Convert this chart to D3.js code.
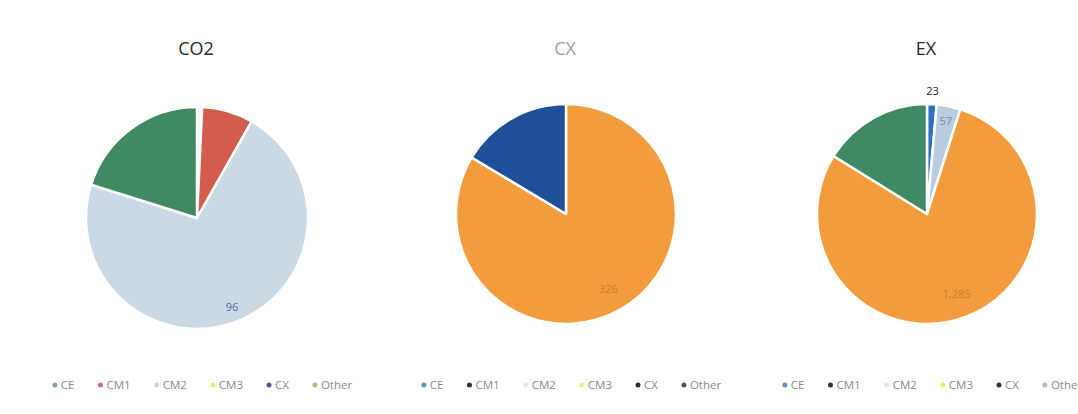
<!DOCTYPE html>
<html>
<head>
<meta charset="utf-8">
<script src="https://cdn.jsdelivr.net/npm/d3@7"></script>
<style>
  body { margin: 0; background: #fff; }
  text { font-family: "Open Sans", "Liberation Sans", sans-serif; }
</style>
</head>
<body>
<div id="chart"></div>
<script>
// categorías comunes a las tres tartas
var categories = ["CE", "CM1", "CM2", "CM3", "CX", "Other"];
var titles = ["CO2", "CX", "EX"];

// valores de cada tarta (mismo orden que categories)
var co2Values = [1, 10, 96, 0, 0, 27];
var cxValues = [0, 0, 0, 326, 64, 0];
var exValues = [23, 0, 57, 1285, 0, 263];

// etiquetas visibles en cada tarta
var co2Labels = ["", "", "96", "", "", ""];
var cxLabels = ["", "", "", "326", "", ""];
var exLabels = ["23", "", "57", "1,285", "", ""];

// colores de las porciones
var co2Colors = ["#f2f4f6", "#d35c4c", "#cbd9e4", "#e9ef7a", "#4c5c8c", "#3f8a62"];
var cxColors = ["#5b8fd6", "#333333", "#d9dde2", "#f39c3d", "#1f4f98", "#3f8a62"];
var exColors = ["#2f70c0", "#333333", "#b9cde0", "#f39c3d", "#2b3a5c", "#3f8a64"];

// colores de los puntos de leyenda
var co2Legend = ["#7fa88c", "#e0637a", "#cfd5de", "#e6f06a", "#4c5c8c", "#a6c47a"];
var cxLegend = ["#5b8fd6", "#333333", "#e4e6ea", "#eef07e", "#2a2a2a", "#555555"];
var exLegend = ["#5b8fd6", "#333333", "#e2e4e8", "#e6ef74", "#333333", "#a9c9a2"];

var charts = [
  {title: titles[0], values: co2Values, labels: co2Labels, colors: co2Colors, legend: co2Legend,
   cx: 197, cy: 218, r: 111, titleColor: "#2a2a2a", labelColor: ["", "", "#55659a", "", "", ""]},
  {title: titles[1], values: cxValues, labels: cxLabels, colors: cxColors, legend: cxLegend,
   cx: 566, cy: 214, r: 110, titleColor: "#a0a0a0", labelColor: ["", "", "", "#c98034", "", ""]},
  {title: titles[2], values: exValues, labels: exLabels, colors: exColors, legend: exLegend,
   cx: 927, cy: 214, r: 110, titleColor: "#2a2a2a", labelColor: ["#222", "", "#7d8ba2", "#c98034", "", ""]}
];

var width = 1078, height = 414;

var svg = d3.select("#chart")
  .append("svg")
    .attr("width", width)
    .attr("height", height);

var pie = d3.pie()
  .sort(null)
  .value(function(d) { return d.value; });

charts.forEach(function(c) {
  var g = svg.append("g")
    .attr("transform", "translate(" + c.cx + "," + c.cy + ")");

  var data = categories.map(function(k, i) {
    return {key: k, value: c.values[i], color: c.colors[i], label: c.labels[i], lc: c.labelColor[i]};
  });
  var arcs = pie(data);
  var arc = d3.arc().innerRadius(0).outerRadius(c.r);

  g.selectAll("path")
    .data(arcs.filter(function(d) { return d.data.value > 0; }))
    .enter()
    .append("path")
      .attr("d", arc)
      .attr("fill", function(d) { return d.data.color; })
      .attr("stroke", "#fff")
      .attr("stroke-width", 2.5)
      .attr("stroke-linejoin", "round");

  // etiquetas: dentro de la porción, o fuera si es muy pequeña
  g.selectAll("text.val")
    .data(arcs.filter(function(d) { return d.data.label !== ""; }))
    .enter()
    .append("text")
      .attr("class", "val")
      .attr("text-anchor", "middle")
      .attr("dy", "0.35em")
      .attr("transform", function(d) {
        var a = (d.startAngle + d.endAngle) / 2;
        var span = d.endAngle - d.startAngle;
        var k = span < 0.1 ? 1.12 : (span > 4.6 ? 0.78 : 0.86);
        return "translate(" + (Math.sin(a) * c.r * k) + "," + (-Math.cos(a) * c.r * k) + ")";
      })
      .style("font-size", "11px")
      .style("fill", function(d) { return d.data.lc; })
      .text(function(d) { return d.data.label; });

  // título
  svg.append("text")
    .attr("x", c.cx - 1)
    .attr("y", 55)
    .attr("text-anchor", "middle")
    .style("font-size", "18px")
    .style("fill", c.titleColor)
    .text(c.title);

  // leyenda
  var lg = svg.append("g");
  var x = 0;
  categories.forEach(function(k, i) {
    var item = lg.append("g").attr("transform", "translate(" + x + ",0)");
    item.append("circle")
      .attr("cx", 3).attr("cy", 0).attr("r", 2.5)
      .attr("fill", c.legend[i]);
    var t = item.append("text")
      .attr("x", 9).attr("y", 0).attr("dy", "0.35em")
      .style("font-size", "11.5px")
      .style("fill", "#8c8c8c")
      .text(k);
    x += 9 + t.node().getComputedTextLength() + 23;
  });
  var lw = x - 23;
  lg.attr("transform", "translate(" + (c.cx + 5 - lw / 2) + ",385)");
});
</script>
</body>
</html>
